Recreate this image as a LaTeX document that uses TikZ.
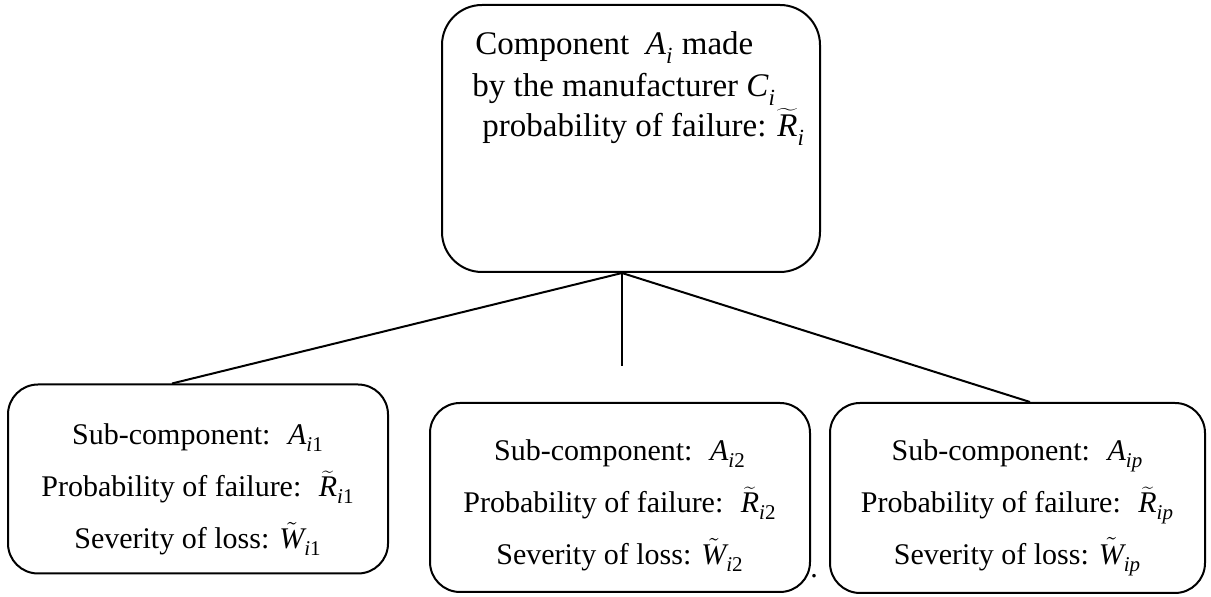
\documentclass[tikz,border=0pt]{standalone}
\usepackage{fontspec}
\setmainfont{Liberation Serif}
\usetikzlibrary{calc,positioning}
\newcommand{\vsym}[2]{\textit{#1}\raisebox{-0.2ex}{\textsubscript{#2}}}
\newcommand{\tsym}[2]{$\widetilde{\mbox{\itshape #1}}$\raisebox{-0.2ex}{\textsubscript{#2}}}
\newcommand{\wsym}[2]{$\tilde{\mbox{\itshape #1}}$\raisebox{-0.2ex}{\textsubscript{#2}}}

\begin{document}
\begin{tikzpicture}[
    x=0.5pt, y=-0.5pt,
    box/.style={rectangle, draw, line width=1pt, rounded corners=15pt, inner sep=0pt},
    bigbox/.style={box, rounded corners=20pt, minimum width=189pt, minimum height=133.5pt},
    subbox/.style={box, minimum width=190pt, minimum height=94.5pt},
    toptext/.style={anchor=base west, inner sep=0pt, font=\fontsize{16.5}{20}\selectfont},
    subtext/.style={align=center, inner sep=0pt, font=\fontsize{15}{26}\selectfont},
    link/.style={line width=1pt}
]
    \useasboundingbox (0,0) rectangle (1211,597);

    % Component
    \node[bigbox] (comp) at (631,138.5) {};
    \node[toptext] (comp1) at (475,55) {Component \ \vsym{A}{\textit{i}} made};
    \node[toptext] (comp2) at (472,97) {by the manufacturer \vsym{C}{\textit{i}}};
    \node[toptext] (comp3) at (482,137) {probability of failure: \tsym{R}{\textit{i}}};

    % Sub-components
    \node[subbox] (sub1) at (198,479) {};
    \node[subbox] (sub2) at (620,497.5) {};
    \node[subbox, minimum width=187.5pt, minimum height=95pt] (subp) at (1017.5,498) {};

    \node[subtext, yshift=-5.5pt] (sub1txt) at (sub1) {Sub-component: \ \vsym{A}{\textit{i}1}\\
        Probability of failure: \ \tsym{R}{\textit{i}1}\\
        Severity of loss: \wsym{W}{\textit{i}1}};
    \node[subtext, yshift=-4pt] (sub2txt) at (sub2) {Sub-component: \ \vsym{A}{\textit{i}2}\\
        Probability of failure: \ \tsym{R}{\textit{i}2}\\
        Severity of loss: \wsym{W}{\textit{i}2}};
    \node[subtext, yshift=-4.75pt] (subptxt) at (subp) {Sub-component: \ \vsym{A}{\textit{ip}}\\
        Probability of failure: \ \tsym{R}{\textit{ip}}\\
        Severity of loss: \wsym{W}{\textit{ip}}};
    \node[subtext, anchor=base] (dot) at (814,578) {.};

    % Edges
    \coordinate (apex) at ($(comp.south)+(-9,0)$);
    \coordinate (stub) at ($(apex)+(0,93)$);
    \draw[link] (apex) -- ($(sub1.north)+(-26,0)$);
    \draw[link] (apex) -- (stub);
    \draw[link] (apex) -- ($(subp.north)+(12.5,0)$);
\end{tikzpicture}
\end{document}
